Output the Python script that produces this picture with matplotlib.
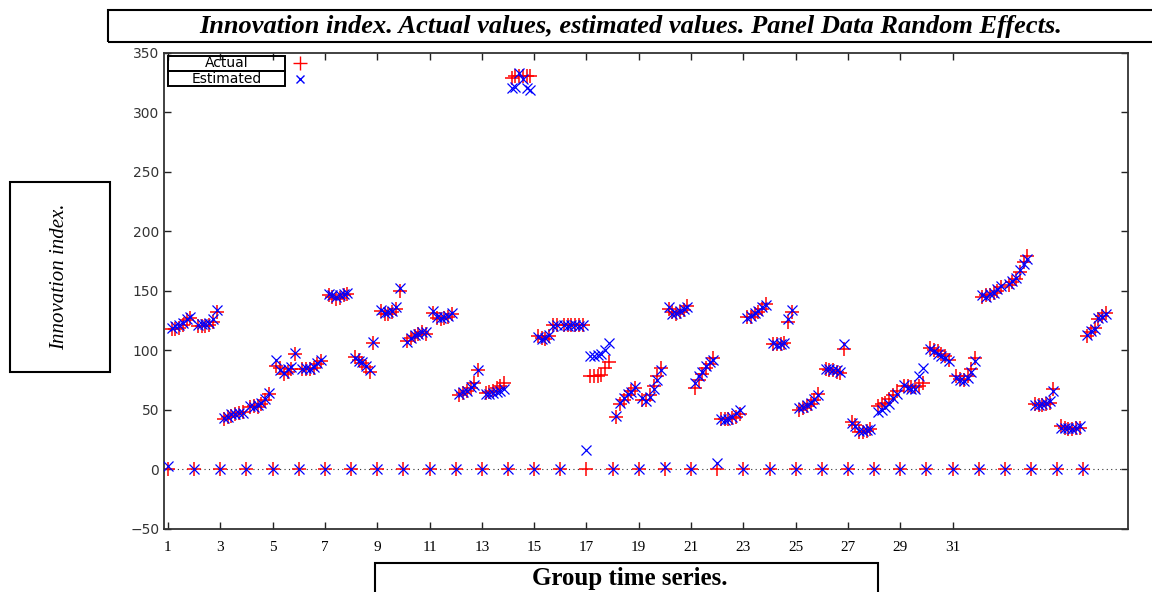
import matplotlib
matplotlib.use("Agg")
import matplotlib.pyplot as plt
from matplotlib.patches import Rectangle

OUTPUT_FILE = "out.png"

# one list per group: value at each period of the unit (first period is 0)
actual = [
    [0, 118, 118, 119, 121, 125, 127],
    [0, 120, 120, 120, 121, 124, 132],
    [0, 42, 44, 45, 46, 47, 48],
    [0, 52, 53, 52, 55, 58, 63],
    [0, 87, 85, 80, 82, 84, 97],
    [0, 84, 84, 84, 85, 88, 91],
    [0, 146, 145, 143, 144, 146, 147],
    [0, 94, 92, 89, 86, 82, 106],
    [0, 133, 130, 130, 132, 135, 150],
    [0, 108, 110, 112, 114, 115, 114],
    [0, 131, 127, 126, 127, 128, 130],
    [0, 62, 64, 66, 68, 72, 83],
    [0, 64, 65, 66, 68, 70, 72],
    [0, 329, 330, 330, 330, 330, 330],
    [0, 112, 110, 109, 112, 121, 121],
    [0, 121, 121, 121, 121, 121, 121],
    [0, 78, 78, 78, 79, 85, 90],
    [0, 44, 55, 58, 62, 66, 68],
    [0, 58, 58, 62, 70, 78, 85],
    [0, 135, 132, 130, 132, 134, 137],
    [0, 68, 75, 80, 85, 88, 93],
    [0, 42, 42, 42, 43, 44, 46],
    [0, 128, 128, 130, 132, 135, 139],
    [0, 105, 105, 105, 106, 124, 132],
    [0, 50, 51, 53, 55, 58, 63],
    [0, 84, 83, 83, 82, 81, 101],
    [0, 40, 37, 31, 31, 32, 34],
    [0, 53, 55, 56, 59, 62, 66],
    [0, 70, 70, 69, 69, 70, 72],
    [0, 102, 100, 99, 97, 95, 92],
    [0, 78, 76, 75, 78, 84, 93],
    [0, 145, 146, 146, 148, 150, 153],
    [0, 155, 157, 160, 166, 174, 179],
    [0, 55, 54, 54, 55, 56, 67],
    [0, 36, 35, 34, 34, 35, 35],
    [0, 112, 115, 119, 126, 129, 131],
]

estimated = [
    [3, 119, 120, 121, 123, 126, 128],
    [0, 121, 122, 122, 123, 126, 134],
    [0, 43, 44, 46, 46, 47, 47],
    [0, 53, 52, 54, 56, 59, 64],
    [0, 92, 83, 81, 84, 86, 98],
    [0, 84, 85, 84, 86, 89, 92],
    [0, 147, 146, 145, 146, 147, 148],
    [0, 93, 91, 90, 87, 83, 107],
    [0, 134, 131, 132, 133, 136, 152],
    [0, 107, 110, 113, 114, 115, 115],
    [0, 133, 128, 127, 128, 129, 131],
    [0, 63, 65, 66, 69, 71, 83],
    [0, 63, 63, 64, 65, 66, 67],
    [0, 320, 321, 333, 328, 320, 319],
    [0, 111, 109, 110, 113, 120, 121],
    [0, 121, 120, 121, 121, 120, 121],
    [16, 95, 95, 96, 97, 100, 106],
    [0, 45, 56, 60, 63, 65, 69],
    [0, 60, 57, 61, 67, 75, 83],
    [2, 136, 130, 131, 133, 135, 136],
    [0, 72, 78, 82, 87, 90, 92],
    [5, 42, 41, 42, 44, 47, 50],
    [0, 127, 129, 131, 133, 136, 138],
    [0, 106, 104, 105, 106, 126, 134],
    [0, 51, 52, 54, 56, 59, 62],
    [0, 84, 84, 83, 83, 82, 105],
    [0, 39, 36, 32, 32, 33, 34],
    [0, 48, 50, 52, 55, 60, 63],
    [0, 71, 68, 67, 67, 78, 85],
    [0, 101, 99, 97, 95, 93, 91],
    [0, 77, 75, 74, 77, 82, 91],
    [0, 146, 145, 147, 148, 151, 154],
    [0, 156, 158, 161, 167, 172, 177],
    [0, 54, 54, 55, 56, 57, 66],
    [0, 35, 35, 35, 34, 35, 36],
    [0, 113, 116, 118, 127, 128, 130],
]

x_ticks = list(range(1, 32, 2))
y_ticks = list(range(-50, 351, 50))

# x position of each observation: group index plus period fraction
xs, ya, ye = [], [], []
for g, (a_vals, e_vals) in enumerate(zip(actual, estimated), start=1):
    n = len(a_vals)
    for t in range(n):
        xs.append(g + t / n)
        ya.append(a_vals[t])
        ye.append(e_vals[t])

fig = plt.figure(figsize=(11.52, 5.92), dpi=100)
ax = fig.add_axes([0.1424, 0.107, 0.8366, 0.804])

ax.axhline(0, color="#333333", ls=(0, (1, 3)), lw=0.8, zorder=1)
ax.plot(xs, ya, ls="none", marker="+", ms=10.5, mew=1.1, color="#ff0000", zorder=2)
ax.plot(xs, ye, ls="none", marker="x", ms=7, mew=0.9, color="#0000ff", zorder=3)

ax.set_xlim(0.85, 37.7)
ax.set_ylim(-50, 350)
ax.set_xticks(x_ticks)
ax.set_yticks(y_ticks)
ax.tick_params(direction="in", top=True, right=True, length=5, width=1, color="#222222")
ax.tick_params(axis="x", pad=9)
for lab in ax.get_xticklabels():
    lab.set_fontfamily("Liberation Serif")
    lab.set_fontsize(11)
for lab in ax.get_yticklabels():
    lab.set_fontfamily("DejaVu Sans")
    lab.set_fontsize(10)
    lab.set_color("#333333")
for sp in ax.spines.values():
    sp.set_linewidth(1.3)
    sp.set_color("#333333")

# key: boxed labels with the marker to their right
for i, (label, mk, col, ms) in enumerate([("Actual", "+", "#ff0000", 10),
                                          ("Estimated", "x", "#0000ff", 6)]):
    y0 = 0.962 - i * 0.033
    ax.add_patch(Rectangle((0.004, y0), 0.1215, 0.032, transform=ax.transAxes,
                           fill=False, lw=1.4, ec="black", clip_on=False, zorder=5))
    ax.text(0.065, y0 + 0.016, label, transform=ax.transAxes, ha="center", va="center",
            fontsize=10, family="DejaVu Sans", zorder=6)
    ax.plot([0.141], [y0 + 0.016], transform=ax.transAxes, ls="none", marker=mk,
            ms=ms, mew=1.0, color=col, clip_on=False, zorder=6)

# boxed title and axis labels
fig.patches.append(Rectangle((108 / 1152, 1 - 42 / 592), 1.0, 32 / 592,
                             transform=fig.transFigure, fill=False, lw=1.5, ec="black"))
fig.text(631 / 1152, 1 - 27 / 592, "Innovation index. Actual values, estimated values. Panel Data Random Effects.",
         ha="center", va="center", family="Liberation Serif", weight="bold", style="italic", fontsize=19)

fig.patches.append(Rectangle((10 / 1152, 1 - 372 / 592), 100 / 1152, 190 / 592,
                             transform=fig.transFigure, fill=False, lw=1.5, ec="black"))
fig.text(60 / 1152, 1 - 277 / 592, "Innovation index.", rotation=90, ha="center", va="center",
         family="Liberation Serif", style="italic", fontsize=15)

fig.patches.append(Rectangle((375 / 1152, -0.05), 503 / 1152, 29 / 592 + 0.05,
                             transform=fig.transFigure, fill=False, lw=1.5, ec="black"))
fig.text(630 / 1152, 1 - 578 / 592, "Group time series.", ha="center", va="center",
         family="Liberation Serif", weight="bold", fontsize=18)

fig.savefig(OUTPUT_FILE, dpi=100)
